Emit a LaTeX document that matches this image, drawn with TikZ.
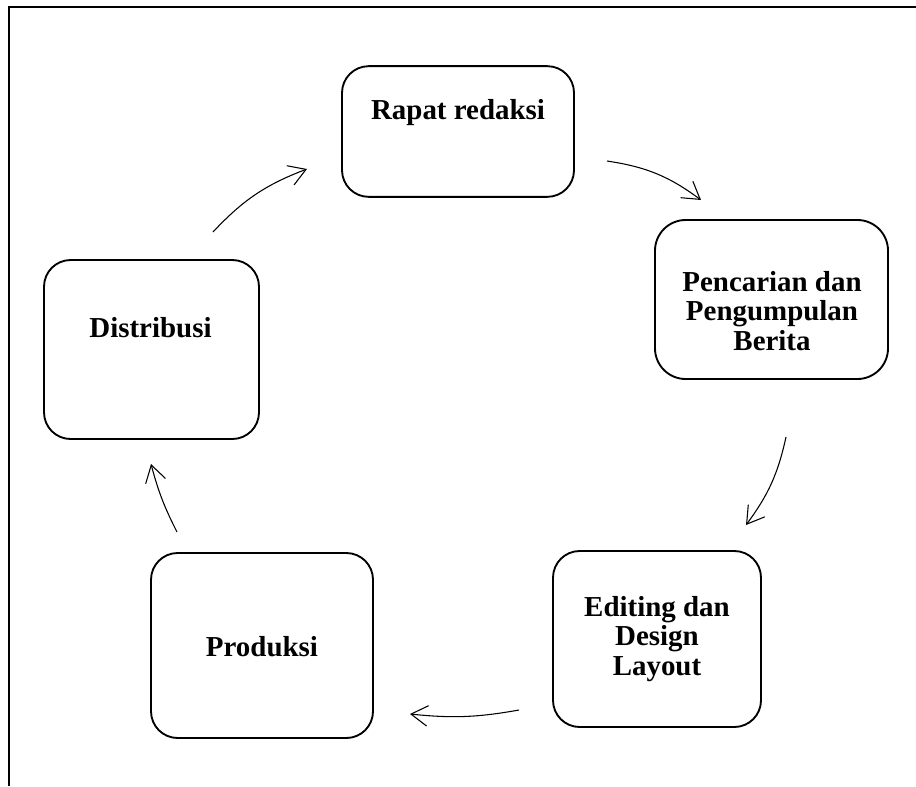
\documentclass[tikz,border=0pt]{standalone}
\usepackage{fontspec}
\setmainfont{Liberation Serif}
\usepackage{tikz}
\usetikzlibrary{arrows.meta, positioning}

\begin{document}
\begin{tikzpicture}[
        x=0.75pt, y=-0.75pt,
        stage/.style={rectangle, draw, line width=1.4pt, rounded corners=20pt, inner sep=0pt},
        stagetext/.style={font=\bfseries\fontsize{21.7}{22.4}\selectfont, align=center, inner sep=0pt},
        cyclearrow/.style={-{Straight Barb[length=4.4mm, width=5.4mm]}, line width=0.8pt}
    ]
    \useasboundingbox (0,0) rectangle (916,786);
    % frame
    \draw[line width=1.1pt] (916,7) -- (9,7) -- (9,786);

    % stages
    \node (rapat) [stage, minimum width=174pt, minimum height=98pt] at (458,131.5) {};
    \node (cari) [stage, minimum width=174.75pt, minimum height=119.25pt, rounded corners=23pt] at (771.5,299.5) {};
    \node (edit) [stage, minimum width=156pt, minimum height=132pt] at (657,639) {};
    \node (produksi) [stage, minimum width=166.5pt, minimum height=138.75pt] at (262,645.5) {};
    \node (distribusi) [stage, minimum width=161.25pt, minimum height=134.25pt] at (151.5,349.5) {};

    \node (rapatT) [stagetext, anchor=base] at (458,119) {Rapat redaksi};
    \node (cariT) [stagetext] at (772,311) {Pencarian dan\\Pengumpulan\\Berita};
    \node (editT) [stagetext] at (657,639) {Editing dan\\Design\\Layout};
    \node (produksiT) [stagetext] at (262,647) {Produksi};
    \node (distribusiT) [stagetext, anchor=base] at (150.5,337) {Distribusi};

    % arrow ends
    \coordinate (a1s) at (213,232);
    \coordinate (a1e) at (307,169);
    \coordinate (a2s) at (607,161);
    \coordinate (a2e) at (701,200);
    \coordinate (a3s) at (786,437);
    \coordinate (a3e) at (746,525);
    \coordinate (a4s) at (519,710);
    \coordinate (a4e) at (410,714);
    \coordinate (a5s) at (177,532);
    \coordinate (a5e) at (151,464);

    \draw[cyclearrow] (a1s) to[bend left=13] (a1e);
    \draw[cyclearrow] (a2s) to[bend left=14] (a2e);
    \draw[cyclearrow] (a3s) to[bend left=12] (a3e);
    \draw[cyclearrow] (a4s) to[bend left=8] (a4e);
    \draw[cyclearrow] (a5s) to[bend left=6] (a5e);
\end{tikzpicture}
\end{document}
